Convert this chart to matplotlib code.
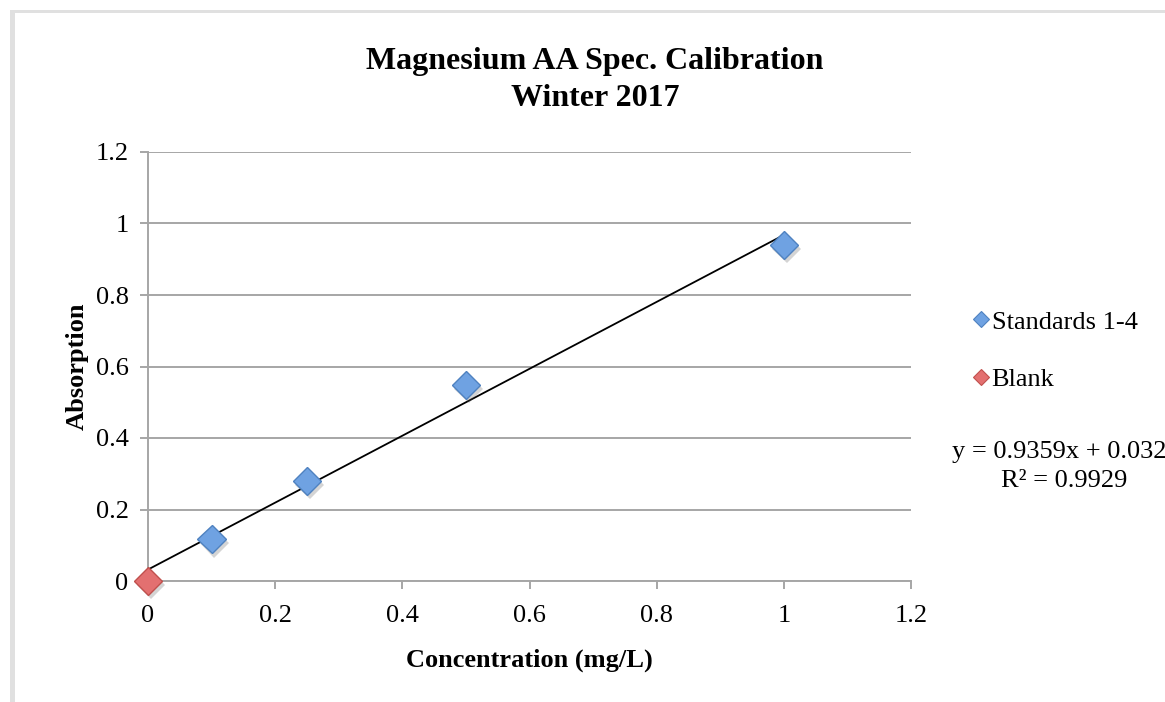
import matplotlib
matplotlib.use("Agg")
import matplotlib.pyplot as plt
import matplotlib.patheffects as pe
from matplotlib.lines import Line2D
from matplotlib.patches import Rectangle
from matplotlib.ticker import FormatStrFormatter, MultipleLocator

plt.rcParams['font.family'] = ['Liberation Serif', 'DejaVu Serif']

# calibration data
std_conc = [0.1, 0.25, 0.5, 1.0]
std_abs = [0.117, 0.28, 0.548, 0.94]
blank_conc = [0.0]
blank_abs = [0.0]

# linear trendline (all points incl. blank)
slope = 0.9359
intercept = 0.032
r2 = 0.9929
fit_x = [0.0, 1.0]

W, H = 1165, 702
fig = plt.figure(figsize=(W / 100, H / 100), dpi=100)
ax = fig.add_axes([148 / W, 1 - 581 / H, (911 - 148) / W, (581 - 152) / H])

grey = '#a6a6a6'
shadow = [pe.SimplePatchShadow(offset=(2, -3), shadow_rgbFace='#555555', alpha=0.25), pe.Normal()]

ax.plot(fit_x, [slope * x + intercept for x in fit_x], color='black', lw=1.3, zorder=3)
ax.plot(std_conc, std_abs, ls='none', marker='D', ms=14.5, mfc='#6fa2e2', mec='#4f82c0',
        mew=1.0, zorder=4, path_effects=shadow, clip_on=False)
ax.plot(blank_conc, blank_abs, ls='none', marker='D', ms=14.5, mfc='#e37070', mec='#c0504d',
        mew=1.0, zorder=5, path_effects=shadow, clip_on=False)

ax.set_xlim(0, 1.2)
ax.set_ylim(0, 1.2)
ax.xaxis.set_major_locator(MultipleLocator(0.2))
ax.yaxis.set_major_locator(MultipleLocator(0.2))
ax.xaxis.set_major_formatter(FormatStrFormatter('%g'))
ax.yaxis.set_major_formatter(FormatStrFormatter('%g'))
ax.grid(axis='y', color=grey, lw=1.4)
ax.set_axisbelow(True)
for s in ['top', 'right']:
    ax.spines[s].set_visible(False)
for s in ['left', 'bottom']:
    ax.spines[s].set_color(grey)
    ax.spines[s].set_linewidth(1.4)
ax.tick_params(direction='out', length=6, width=1.4, color=grey, labelsize=19,
               labelcolor='black')
ax.tick_params(axis='y', pad=8)
ax.tick_params(axis='x', pad=11)

ax.set_xlabel('Concentration (mg/L)', fontsize=19, fontweight='bold', labelpad=16)
ax.set_ylabel('Absorption', fontsize=19, fontweight='bold', labelpad=5)

fig.text(595 / W, 1 - 80 / H, 'Magnesium AA Spec. Calibration\nWinter 2017',
         ha='center', va='center', fontsize=23, fontweight='bold', linespacing=1.32)

handles = [
    Line2D([], [], ls='none', marker='D', ms=8.5, mfc='#6fa2e2', mec='#4f82c0', mew=0.8),
    Line2D([], [], ls='none', marker='D', ms=8.5, mfc='#e37070', mec='#c0504d', mew=0.8),
]
fig.legend(handles, ['Standards 1-4', 'Blank'], loc='upper left',
           bbox_to_anchor=(960 / W, 1 - 297 / H), frameon=False, fontsize=19,
           handlelength=0.6, handletextpad=0.1, labelspacing=1.3, borderpad=0)

fig.text(952 / W, 1 - 452 / H, f'y = {slope}x + {intercept}', ha='left', va='center',
         fontsize=19)
fig.text(1064 / W, 1 - 481 / H, f'R² = {r2}', ha='center', va='center', fontsize=19)

# light frame on the left and top edges
fig.patches.append(Rectangle((10 / W, 0), 5 / W, 1 - 10 / H, transform=fig.transFigure,
                             color='#e0e0e0', lw=0))
fig.patches.append(Rectangle((10 / W, 1 - 13 / H), 1 - 10 / W, 3 / H, transform=fig.transFigure,
                             color='#e0e0e0', lw=0))

fig.savefig('out.png', dpi=100)
